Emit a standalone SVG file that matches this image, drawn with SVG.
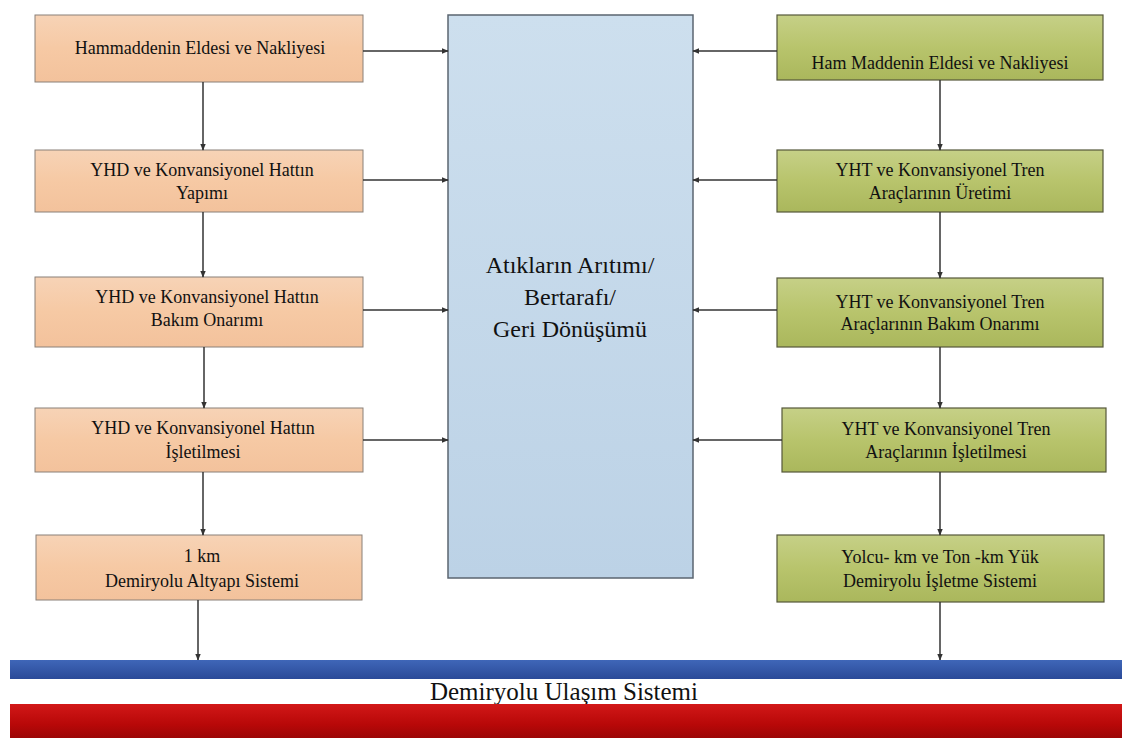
<svg xmlns="http://www.w3.org/2000/svg" width="1128" height="742" viewBox="0 0 1128 742">
  <defs>
    <linearGradient id="peach" x1="0" y1="0" x2="0" y2="1">
      <stop offset="0" stop-color="#f7d3b6"/>
      <stop offset="0.5" stop-color="#f6c9a4"/>
      <stop offset="1" stop-color="#f3c29c"/>
    </linearGradient>
    <linearGradient id="olive" x1="0" y1="0" x2="0" y2="1">
      <stop offset="0" stop-color="#c6d087"/>
      <stop offset="0.5" stop-color="#b8c46c"/>
      <stop offset="1" stop-color="#aab75c"/>
    </linearGradient>
    <linearGradient id="sky" x1="0" y1="0" x2="0" y2="1">
      <stop offset="0" stop-color="#cddfee"/>
      <stop offset="1" stop-color="#bcd2e6"/>
    </linearGradient>
    <linearGradient id="blueBar" x1="0" y1="0" x2="0" y2="1">
      <stop offset="0" stop-color="#3f66b8"/>
      <stop offset="1" stop-color="#2a4a98"/>
    </linearGradient>
    <linearGradient id="redBar" x1="0" y1="0" x2="0" y2="1">
      <stop offset="0" stop-color="#d21818"/>
      <stop offset="0.6" stop-color="#b80808"/>
      <stop offset="1" stop-color="#9c0606"/>
    </linearGradient>
    <marker id="arr" viewBox="0 0 10 10" refX="9" refY="5" markerWidth="7" markerHeight="7" orient="auto-start-reverse" markerUnits="userSpaceOnUse">
      <path d="M0,1 L10,5 L0,9 Z" fill="#333"/>
    </marker>
  </defs>
  <style>
    text { fill: #111; text-anchor: middle; font-style: normal; font-weight: 400; }
    .left { fill: url(#peach); stroke: #8a8078; stroke-width: 1; }
    .right { fill: url(#olive); stroke: #55583a; stroke-width: 1.2; }
    .center { fill: url(#sky); stroke: #5b6570; stroke-width: 1.5; }
    .link { fill: none; stroke: #333; stroke-width: 1.5; marker-end: url(#arr); }
  </style>

  <rect x="0" y="0" width="1128" height="742" fill="#ffffff"/>

  <!-- central treatment block -->
  <g id="waste">
    <rect class="center" x="448" y="15" width="245" height="563"/>
    <text x="570" y="273" font-family="Liberation Serif, serif" font-size="24">Atıkların Arıtımı/</text>
    <text x="570" y="305" font-family="Liberation Serif, serif" font-size="24">Bertarafı/</text>
    <text x="570" y="337" font-family="Liberation Serif, serif" font-size="24">Geri Dönüşümü</text>
  </g>

  <!-- infrastructure column -->
  <g id="raw-material-left">
    <rect class="left" x="35" y="15" width="328" height="67"/>
    <text x="200" y="54" font-family="Liberation Serif, serif" font-size="18">Hammaddenin Eldesi ve Nakliyesi</text>
  </g>
  <g id="line-construction">
    <rect class="left" x="35" y="150" width="328" height="62"/>
    <text x="202" y="176" font-family="Liberation Serif, serif" font-size="18">YHD ve Konvansiyonel Hattın</text>
    <text x="202" y="199" font-family="Liberation Serif, serif" font-size="18">Yapımı</text>
  </g>
  <g id="line-maintenance">
    <rect class="left" x="35" y="277" width="328" height="70"/>
    <text x="207" y="303" font-family="Liberation Serif, serif" font-size="18">YHD ve Konvansiyonel Hattın</text>
    <text x="207" y="326" font-family="Liberation Serif, serif" font-size="18">Bakım Onarımı</text>
  </g>
  <g id="line-operation">
    <rect class="left" x="35" y="408" width="328" height="64"/>
    <text x="203" y="434" font-family="Liberation Serif, serif" font-size="18">YHD ve Konvansiyonel Hattın</text>
    <text x="203" y="458" font-family="Liberation Serif, serif" font-size="18">İşletilmesi</text>
  </g>
  <g id="infrastructure">
    <rect class="left" x="36" y="535" width="326" height="65"/>
    <text x="202" y="562" font-family="Liberation Serif, serif" font-size="18">1 km</text>
    <text x="202" y="587" font-family="Liberation Serif, serif" font-size="18">Demiryolu Altyapı Sistemi</text>
  </g>

  <!-- rolling stock column -->
  <g id="raw-material-right">
    <rect class="right" x="777" y="15" width="326" height="65"/>
    <text x="940" y="69" font-family="Liberation Serif, serif" font-size="18">Ham Maddenin Eldesi ve Nakliyesi</text>
  </g>
  <g id="train-production">
    <rect class="right" x="777" y="150" width="326" height="62"/>
    <text x="940" y="176" font-family="Liberation Serif, serif" font-size="18">YHT ve Konvansiyonel Tren</text>
    <text x="940" y="199" font-family="Liberation Serif, serif" font-size="18">Araçlarının Üretimi</text>
  </g>
  <g id="train-maintenance">
    <rect class="right" x="777" y="278" width="326" height="69"/>
    <text x="940" y="308" font-family="Liberation Serif, serif" font-size="18">YHT ve Konvansiyonel Tren</text>
    <text x="940" y="330" font-family="Liberation Serif, serif" font-size="18">Araçlarının Bakım Onarımı</text>
  </g>
  <g id="train-operation">
    <rect class="right" x="782" y="408" width="324" height="64"/>
    <text x="946" y="435" font-family="Liberation Serif, serif" font-size="18">YHT ve Konvansiyonel Tren</text>
    <text x="946" y="458" font-family="Liberation Serif, serif" font-size="18">Araçlarının İşletilmesi</text>
  </g>
  <g id="operation-system">
    <rect class="right" x="777" y="535" width="327" height="67"/>
    <text x="940" y="563" font-family="Liberation Serif, serif" font-size="18">Yolcu- km ve Ton -km Yük</text>
    <text x="940" y="587" font-family="Liberation Serif, serif" font-size="18">Demiryolu İşletme Sistemi</text>
  </g>

  <!-- connectors -->
  <g id="connectors">
    <path class="link" d="M363,51 H448"/>
    <path class="link" d="M363,180 H448"/>
    <path class="link" d="M363,310 H448"/>
    <path class="link" d="M363,440 H448"/>
    <path class="link" d="M777,51 H693"/>
    <path class="link" d="M777,180 H693"/>
    <path class="link" d="M777,310 H693"/>
    <path class="link" d="M782,440 H693"/>

    <path class="link" d="M203,82 V150"/>
    <path class="link" d="M203,212 V277"/>
    <path class="link" d="M204,347 V408"/>
    <path class="link" d="M203,472 V535"/>
    <path class="link" d="M198,600 V660"/>

    <path class="link" d="M940,80 V150"/>
    <path class="link" d="M940,212 V278"/>
    <path class="link" d="M940,347 V408"/>
    <path class="link" d="M940,472 V535"/>
    <path class="link" d="M940,602 V660"/>
  </g>

  <!-- railway system bars -->
  <g id="railway-system">
    <rect x="10" y="660" width="1112" height="19" fill="url(#blueBar)"/>
    <text x="564" y="700" font-family="Liberation Serif, serif" font-size="25">Demiryolu Ulaşım Sistemi</text>
    <rect x="10" y="704" width="1112" height="34" fill="url(#redBar)"/>
  </g>
</svg>
